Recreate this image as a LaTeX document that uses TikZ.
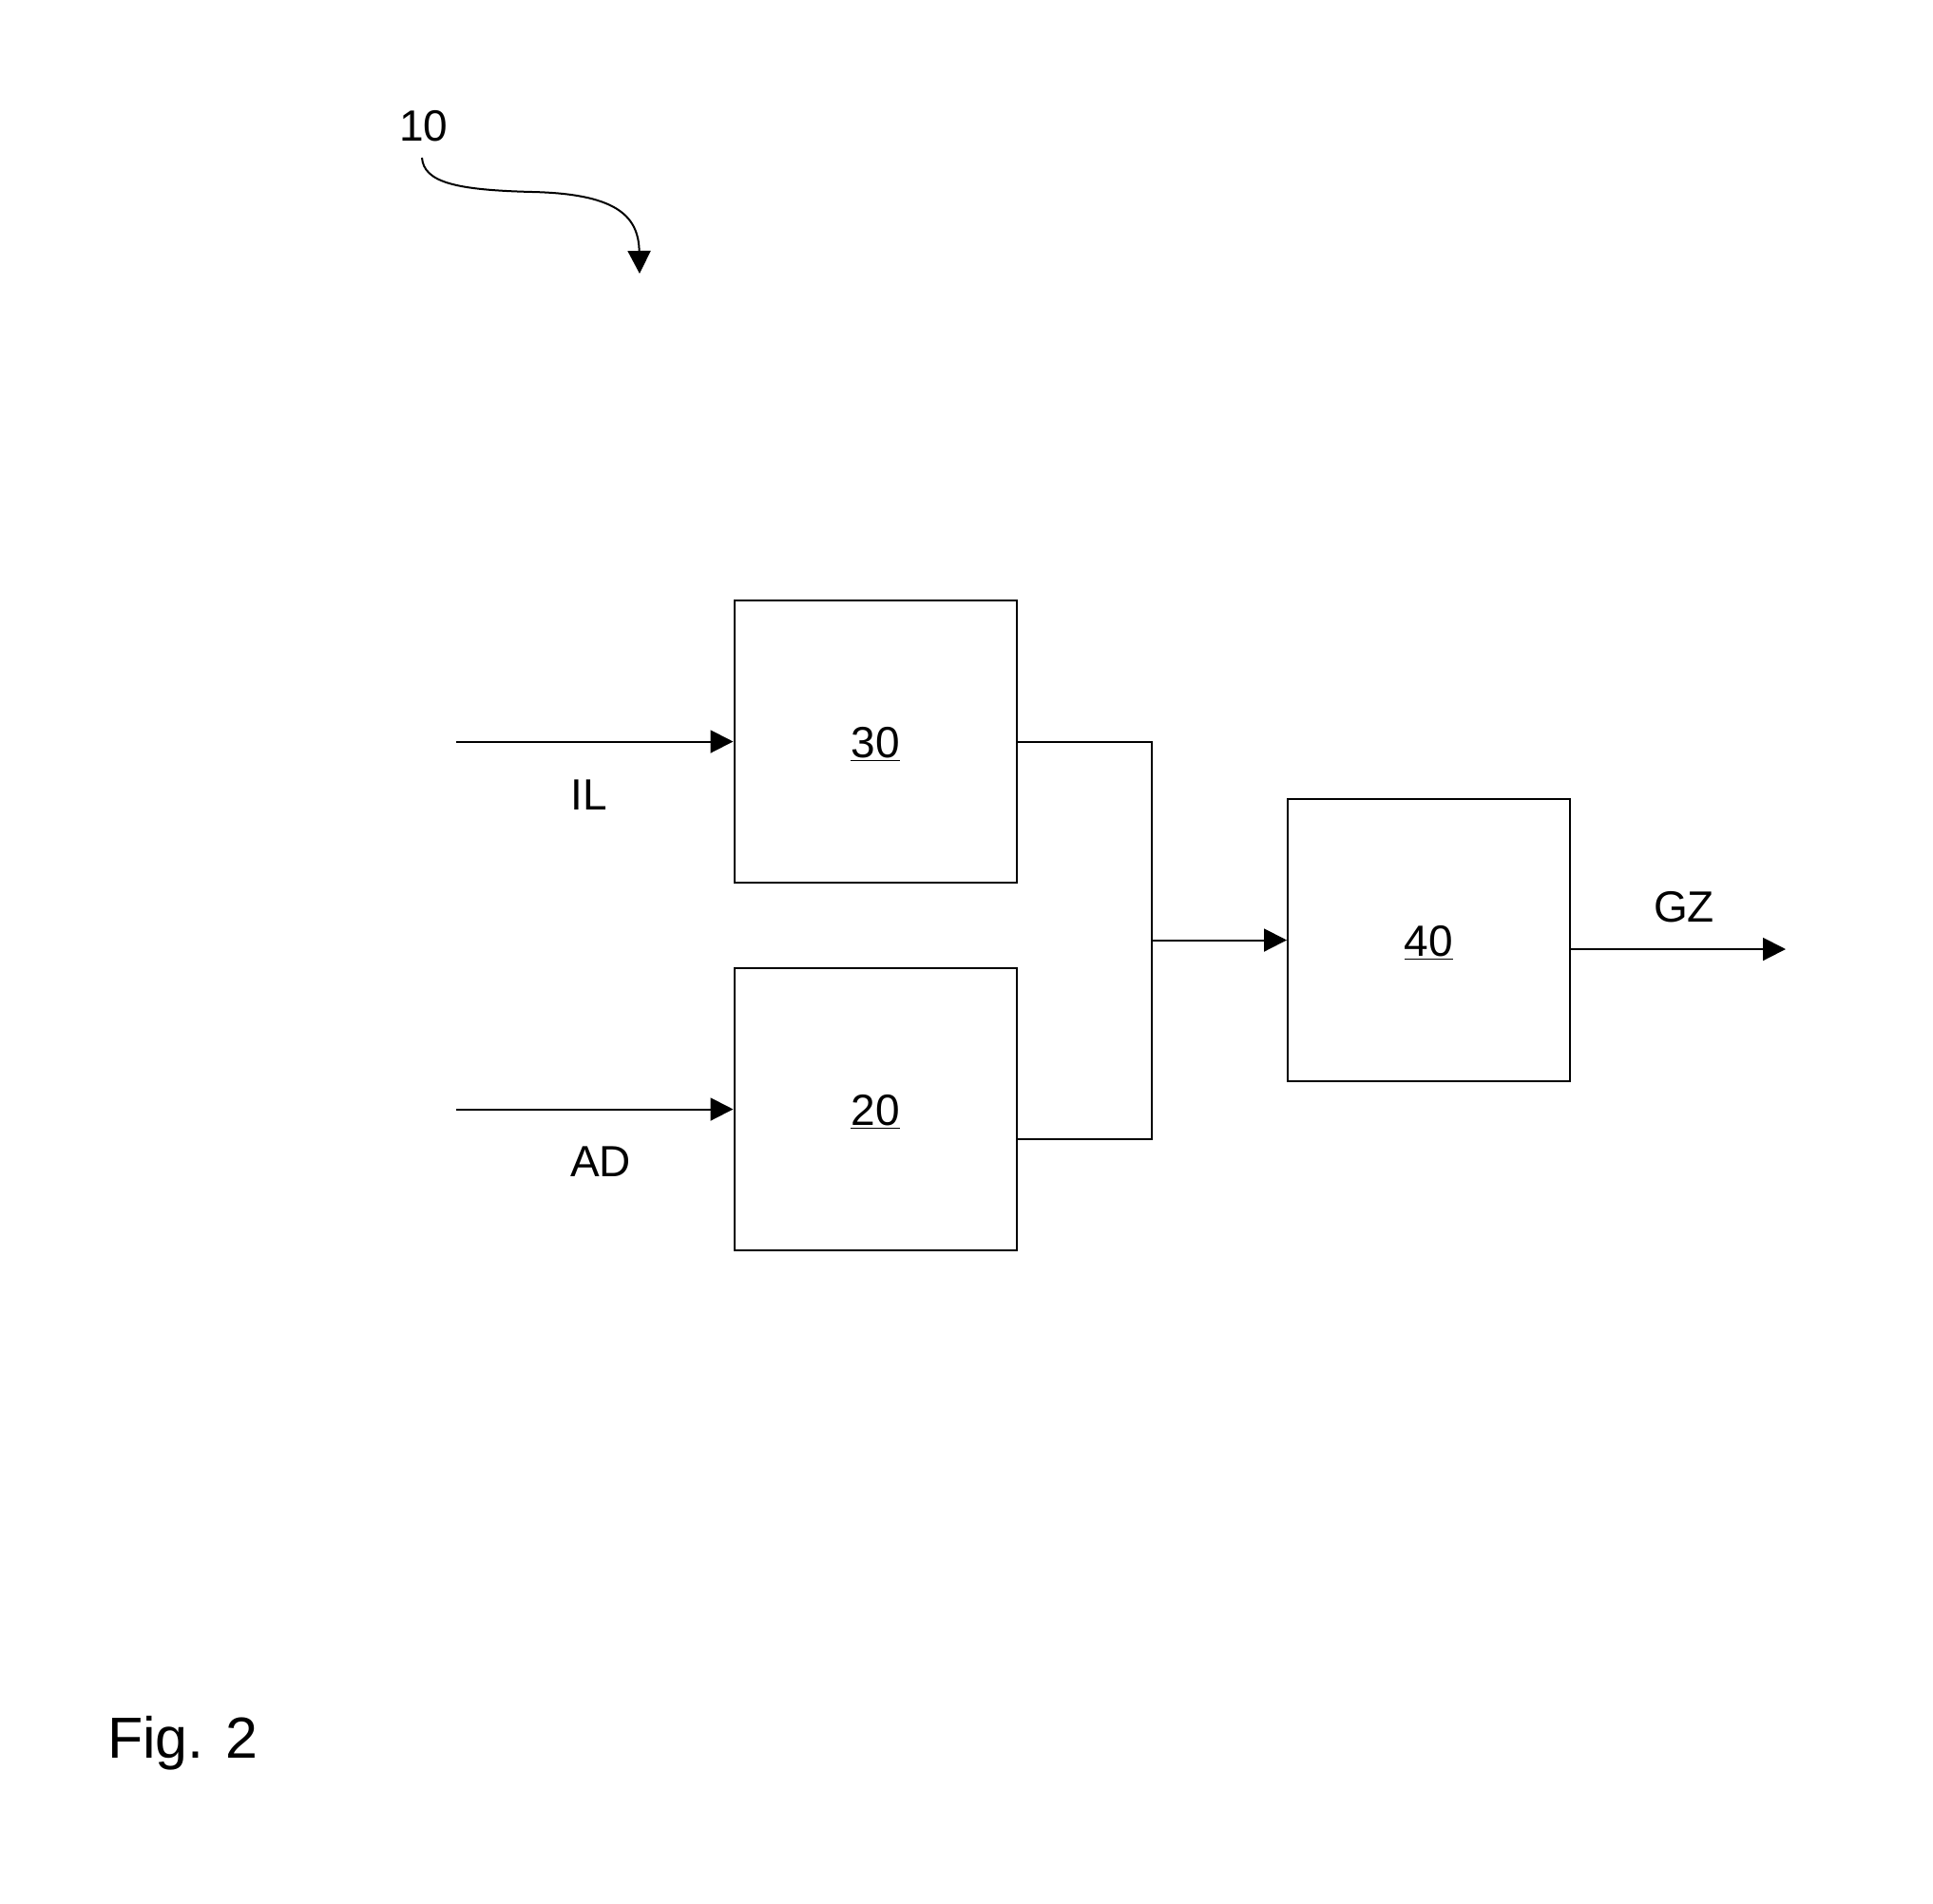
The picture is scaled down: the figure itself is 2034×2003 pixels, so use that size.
\documentclass[tikz,border=0pt]{standalone}
\usepackage{fontspec}
\setmainfont{Liberation Sans}
\usetikzlibrary{arrows.meta,calc}
\begin{document}
\begin{tikzpicture}[x=0.5pt,y=-0.5pt,
  line width=1pt,
  blockbox/.style={draw,minimum width=148.5pt,minimum height=148.5pt,inner sep=0pt,line width=1pt},
  lbl/.style={font=\fontsize{23}{27}\selectfont,inner sep=0pt},
  arr/.style={-{Triangle[length=12pt,width=12pt]}}]
\useasboundingbox (0,0) rectangle (2034,2003);
% blocks
\node[blockbox] (b30) at (921,780.5) {};
\node[blockbox] (b20) at (921,1167.5) {};
\node[blockbox] (b40) at (1503.5,989.5) {};
\node[lbl,anchor=base] (t30) at ($(b30.center)+(0,17)$) {\underline{30}};
\node[lbl,anchor=base] (t20) at ($(b20.center)+(0,17)$) {\underline{20}};
\node[lbl,anchor=base] (t40) at ($(b40.center)+(0,17)$) {\underline{40}};
% labels
\node[lbl] (il) at (620,837) {IL};
\node[lbl] (ad) at (632,1223) {AD};
\node[lbl] (gz) at (1772,955) {GZ};
\node[lbl] (t10) at (446,133) {10};
\node[font=\fontsize{30.5}{36}\selectfont,inner sep=0pt,anchor=base west] (fig) at (112,1850) {Fig. 2};
% coordinates
\coordinate (ilstart) at (480,780.5);
\coordinate (adstart) at (480,1167.5);
\coordinate (j1) at (1212,780.5);
\coordinate (j2) at (1212,1199);
\coordinate (jm) at (1212,989.5);
\coordinate (gzstart) at (1652,999);
\coordinate (gzend) at (1879,999);
\coordinate (c10start) at (444,166);
\coordinate (c10mid) at (560,202);
\coordinate (c10end) at (673,288);
% connectors
\draw[arr] (ilstart) -- (b30.west);
\draw[arr] (adstart) -- (b20.west);
\draw (b30.east) -- (j1) -- (j2) -- (b20.east |- j2);
\draw[arr] (jm) -- (b40.west);
\draw[arr] (b40.east |- gzstart) -- (gzend);
\draw[arr] (c10start) .. controls (446,192) and (480,200) .. (c10mid)
  .. controls (645,204) and (672,225) .. (c10end);
\end{tikzpicture}
\end{document}
